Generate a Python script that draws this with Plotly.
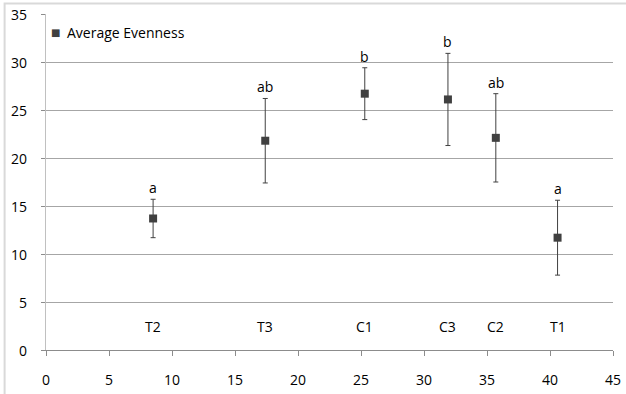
import plotly.graph_objects as go

# Site means of evenness with their error and significance groups
sites = ["T2", "T3", "C1", "C3", "C2", "T1"]
site_x = [8.5, 17.4, 25.3, 31.9, 35.7, 40.6]
mean_evenness = [13.7, 21.8, 26.7, 26.1, 22.1, 11.7]
error = [2.0, 4.4, 2.7, 4.8, 4.6, 3.9]
groups = ["a", "ab", "b", "b", "ab", "a"]
site_label_y = 2.4
series_name = "Average Evenness"

x_ticks = [0, 5, 10, 15, 20, 25, 30, 35, 40, 45]
y_ticks = [0, 5, 10, 15, 20, 25, 30, 35]

FONT = "Open Sans"
SIZE = 14
DARK = "#404040"
TEXT = dict(family=FONT, size=SIZE, color="#000")

fig = go.Figure()
fig.add_trace(go.Scatter(
    x=site_x, y=mean_evenness, mode="markers", name=series_name,
    showlegend=False,
    marker=dict(symbol="square", size=8, color=DARK),
    error_y=dict(type="data", array=error, visible=True, color=DARK,
                 thickness=1, width=2.5),
))

annotations = []
# significance letters just above each error bar
for x, m, e, g in zip(site_x, mean_evenness, error, groups):
    annotations.append(dict(x=x, y=m + e, text=g, showarrow=False,
                            yanchor="bottom", font=TEXT))
# site names along the bottom
for x, s in zip(site_x, sites):
    annotations.append(dict(x=x, y=site_label_y, text=s, showarrow=False,
                            font=TEXT))
# axis numbers set a little further from the axes than plotly's default
for t in x_ticks:
    annotations.append(dict(x=t, xref="x", y=0, yref="paper", text=str(t),
                            showarrow=False, yanchor="middle", yshift=-29,
                            font=TEXT))
for t in y_ticks:
    annotations.append(dict(x=0, xref="paper", y=t, yref="y", text=str(t),
                            showarrow=False, xanchor="right", xshift=-17,
                            yanchor="middle", font=TEXT))
# compact legend key: square swatch followed by the series name
annotations.append(dict(xref="paper", yref="paper", x=0.0176, y=0.944,
                        text="■", showarrow=False, xanchor="center",
                        yanchor="middle",
                        font=dict(family="DejaVu Sans", size=10, color=DARK)))
annotations.append(dict(xref="paper", yref="paper", x=0.033, y=0.944,
                        text=series_name, showarrow=False, xanchor="left",
                        yanchor="middle", font=TEXT))

fig.update_layout(
    width=626, height=394,
    margin=dict(l=46, r=13, t=14, b=44, autoexpand=False),
    paper_bgcolor="white", plot_bgcolor="white",
    font=TEXT,
    showlegend=False,
    xaxis=dict(range=[0, 45], tickvals=x_ticks, showticklabels=False,
               showgrid=False, zeroline=False,
               showline=True, linecolor="#8c8c8c", linewidth=1,
               ticks="outside", ticklen=5, tickcolor="#8c8c8c", tickwidth=1,
               automargin=False),
    yaxis=dict(range=[0, 35], tickvals=y_ticks, showticklabels=False,
               showgrid=True, gridcolor="#a6a6a6", gridwidth=1, zeroline=False,
               showline=True, linecolor="#c0c0c0", linewidth=1,
               ticks="outside", ticklen=4, tickcolor="#8c8c8c", tickwidth=1,
               automargin=False),
    annotations=annotations,
    shapes=[dict(type="rect", xref="paper", yref="paper",
                 x0=-0.073, x1=1.05, y0=-0.2, y1=1.031,
                 line=dict(color="#d9d9d9", width=2), layer="below")],
)

fig.write_html("out.html")
